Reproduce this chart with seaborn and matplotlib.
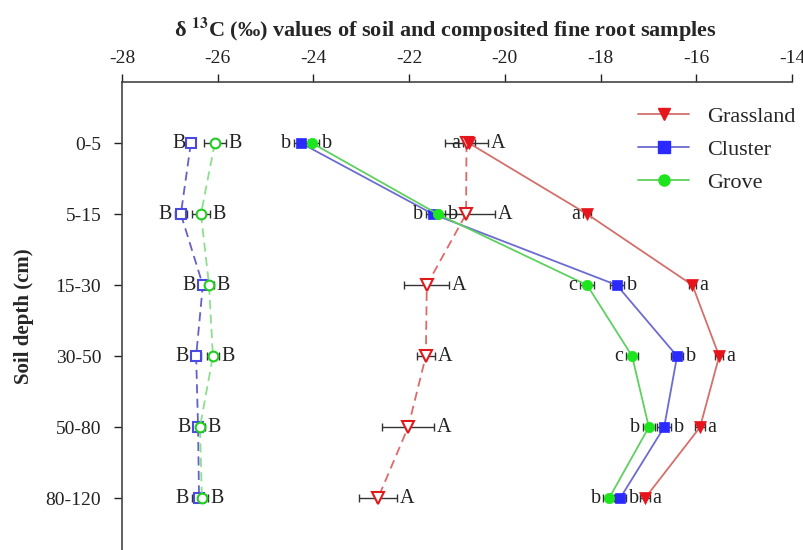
import seaborn as sns
import numpy as np
import pandas as pd
import matplotlib.pyplot as plt
from matplotlib.lines import Line2D

# depth classes (top to bottom)
depths = ["0-5", "5-15", "15-30", "30-50", "50-80", "80-120"]

# fine root d13C (solid lines, filled markers)
root_grass = [-20.75, -18.28, -16.08, -15.52, -15.92, -17.07]
root_grass_err = [0.12, 0.08, 0.08, 0.08, 0.1, 0.1]
root_cluster = [-24.26, -21.5, -17.66, -16.4, -16.67, -17.59]
root_cluster_err = [0.15, 0.15, 0.15, 0.12, 0.15, 0.12]
root_grove = [-24.03, -21.4, -18.28, -17.34, -16.99, -17.82]
root_grove_err = [0.15, 0.15, 0.15, 0.12, 0.12, 0.12]

# soil d13C (dashed lines, open markers)
soil_grass = [-20.8, -20.81, -21.63, -21.65, -22.02, -22.65]
soil_grass_err = [0.45, 0.6, 0.47, 0.19, 0.55, 0.4]
soil_cluster = [-26.56, -26.77, -26.31, -26.45, -26.41, -26.39]
soil_cluster_err = [0.05, 0.12, 0.08, 0.1, 0.1, 0.15]
soil_grove = [-26.06, -26.35, -26.18, -26.1, -26.37, -26.33]
soil_grove_err = [0.23, 0.18, 0.1, 0.12, 0.1, 0.12]

# significance letters and side (L/R)
let_root_grass = ["a", "a", "a", "a", "a", "a"]
side_root_grass = ["L", "L", "R", "R", "R", "R"]
let_root_cluster = ["b", "b", "b", "b", "b", "b"]
side_root_cluster = ["L", "L", "R", "R", "R", "R"]
let_root_grove = ["b", "b", "c", "c", "b", "b"]
side_root_grove = ["R", "R", "L", "L", "L", "L"]
let_soil_grass = ["A"] * 6
side_soil_grass = ["R"] * 6
let_soil_cluster = ["B"] * 6
side_soil_cluster = ["L"] * 6
let_soil_grove = ["B"] * 6
side_soil_grove = ["R"] * 6

sns.set_style("ticks")
plt.rcParams['font.family'] = ['Liberation Serif', 'DejaVu Serif']
plt.rcParams['mathtext.fontset'] = 'stix'
plt.rcParams['axes.unicode_minus'] = False

fig = plt.figure(figsize=(8.04, 5.5), dpi=100)
ax = fig.add_axes([0.1517, 0.0, 0.8333, 0.8509])

ypos = np.arange(len(depths))

red_l, red_m = "#d4706c", "#e8141c"
blue_l, blue_m = "#6c6cd0", "#2a2aff"
green_l, green_m = "#5fd05f", "#1ee61e"

series = [
    # values, err, line col, marker col, marker, filled, dashed, letters, sides
    (soil_cluster, soil_cluster_err, "#6262c8", "#4a4ae0", "s", False, True, let_soil_cluster, side_soil_cluster),
    (soil_grove, soil_grove_err, "#8ce08c", "#22cc22", "o", False, True, let_soil_grove, side_soil_grove),
    (soil_grass, soil_grass_err, "#de6a6a", "#e01a1a", "v", False, True, let_soil_grass, side_soil_grass),
    (root_grass, root_grass_err, red_l, red_m, "v", True, False, let_root_grass, side_root_grass),
    (root_cluster, root_cluster_err, blue_l, blue_m, "s", True, False, let_root_cluster, side_root_cluster),
    (root_grove, root_grove_err, green_l, green_m, "o", True, False, let_root_grove, side_root_grove),
]

for vals, err, lc, mc, mk, filled, dashed, lets, sides in series:
    df = pd.DataFrame({"x": vals, "y": ypos})
    ax.errorbar(df["x"], df["y"], xerr=err, fmt="none", ecolor="#333333",
                elinewidth=1.0, capsize=3, capthick=1.0, zorder=2)
    if filled:
        ms = 9 if mk == "v" else 7.5
    else:
        ms = 8 if mk == "v" else 7
    sns.lineplot(data=df, x="x", y="y", sort=False, estimator=None, ax=ax,
                 color=lc, lw=1.3, linestyle=(0, (5, 3)) if dashed else "-",
                 marker=mk, markersize=ms,
                 markerfacecolor=mc if filled else "white",
                 markeredgecolor=mc, markeredgewidth=1.5 if not filled else 0.5,
                 zorder=3)
    for v, e, y, t, s in zip(vals, err, ypos, lets, sides):
        if s == "L":
            ax.annotate(t, (v - e, y), xytext=(-2, 0), textcoords="offset points",
                        ha="right", va="center", fontsize=14.5, color="#222222")
        else:
            ax.annotate(t, (v + e, y), xytext=(2, 0), textcoords="offset points",
                        ha="left", va="center", fontsize=14.5, color="#222222")

ax.set_xlim(-28, -14)
ax.set_xticks(np.arange(-28, -13, 2))
ax.set_ylim(5.73, -0.86)
ax.set_yticks(ypos)
ax.set_yticklabels(depths)
ax.xaxis.tick_top()
ax.tick_params(axis="both", labelsize=14, colors="#222222", length=6, width=1)
ax.tick_params(axis="y", pad=9)
ax.tick_params(axis="x", pad=5)
ax.set_xlabel("")
ax.set_ylabel("Soil depth (cm)", fontsize=15, fontweight="bold", labelpad=8)
for sp in ["right", "bottom"]:
    ax.spines[sp].set_visible(False)
for sp in ["left", "top"]:
    ax.spines[sp].set_linewidth(1.2)
    ax.spines[sp].set_color("#444444")

handles = [
    Line2D([], [], color=red_l, marker="v", markersize=9, markerfacecolor=red_m, markeredgecolor=red_m, lw=1.3),
    Line2D([], [], color=blue_l, marker="s", markersize=8, markerfacecolor=blue_m, markeredgecolor=blue_m, lw=1.3),
    Line2D([], [], color=green_l, marker="o", markersize=8, markerfacecolor=green_m, markeredgecolor=green_m, lw=1.3),
]
ax.legend(handles, ["Grassland", "Cluster", "Grove"], loc="upper right",
          bbox_to_anchor=(1.035, 0.99), frameon=False, fontsize=16,
          handlelength=2.3, labelspacing=0.55, handletextpad=0.8)

fig.text(0.554, 0.945, r"δ $^{\mathbf{13}}$C (‰) values of soil and composited fine root samples",
         ha="center", va="center", fontsize=16, fontweight="bold")

fig.savefig("out.png", dpi=100)
